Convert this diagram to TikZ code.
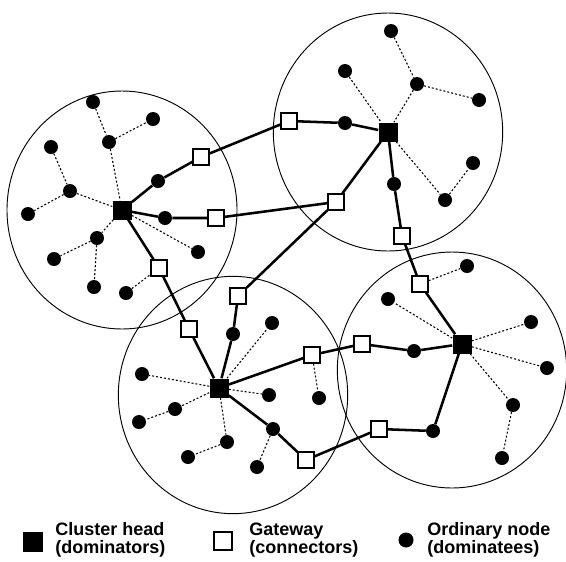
\documentclass[tikz,border=0pt]{standalone}
\usepackage{fontspec}
\setmainfont{Liberation Sans}

\tikzstyle{head} = [rectangle, fill=black, minimum size=14.25pt, inner sep=0pt]
\tikzstyle{gateway} = [rectangle, draw=black, fill=white, line width=1.5pt,
minimum size=11.5pt, inner sep=0pt]
\tikzstyle{ordinary} = [circle, fill=black, minimum size=10.5pt, inner sep=0pt]
\tikzstyle{link} = [line width=1.9pt]
\tikzstyle{dom} = [line width=0.8pt, dash pattern=on 1.5pt off 1.5pt]
\tikzstyle{cluster} = [line width=0.7pt]
\tikzstyle{legend} = [align=left, anchor=west, inner sep=0pt,
font=\fontsize{13.5}{13.8}\selectfont\bfseries]

\begin{document}
\begin{tikzpicture}[x=0.75pt, y=-0.75pt]

  \useasboundingbox (0,0) rectangle (566,561);

  % cluster ranges
  \draw [cluster] (122,210) ellipse [x radius=86.25pt, y radius=89.25pt];
  \draw [cluster] (388,132) ellipse [x radius=86pt, y radius=89.25pt];
  \draw [cluster] (233,395) ellipse [x radius=86pt, y radius=89pt];
  \draw [cluster] (452,370) ellipse [x radius=86pt, y radius=88.5pt];

  % left cluster
  \node (h1) [head] at (122,210) {};
  \node (g1) [gateway] at (201,157) {};
  \node (g2) [gateway] at (216,218) {};
  \node (g3) [gateway] at (159,268) {};
  \node (a) [ordinary] at (93,102) {};
  \node (b) [ordinary] at (153,119) {};
  \node (c) [ordinary] at (109,142) {};
  \node (d) [ordinary] at (51,147) {};
  \node (e) [ordinary] at (70,191) {};
  \node (f) [ordinary] at (28,214) {};
  \node (g) [ordinary] at (158,181) {};
  \node (h) [ordinary] at (165,218) {};
  \node (i) [ordinary] at (97,238) {};
  \node (j) [ordinary] at (54,259) {};
  \node (k) [ordinary] at (94,287) {};
  \node (l) [ordinary] at (126,293) {};
  \node (m) [ordinary] at (198,252) {};

  % top right cluster
  \node (h2) [head] at (388,132) {};
  \node (g5) [gateway] at (336,202) {};
  \node (g6) [gateway] at (289,121) {};
  \node (g7) [gateway] at (402,236) {};
  \node (n) [ordinary] at (391,31) {};
  \node (o) [ordinary] at (345,71) {};
  \node (p) [ordinary] at (417,84) {};
  \node (q) [ordinary] at (479,100) {};
  \node (r) [ordinary] at (345,123) {};
  \node (s) [ordinary] at (394,184) {};
  \node (t) [ordinary] at (445,200) {};
  \node (u) [ordinary] at (473,163) {};

  % bottom left cluster
  \node (h3) [head] at (219,388) {};
  \node (g4) [gateway] at (189,329) {};
  \node (g8) [gateway] at (238,296) {};
  \node (g9) [gateway] at (312,355) {};
  \node (g10) [gateway] at (306,460) {};
  \node (v) [ordinary] at (233,334) {};
  \node (w) [ordinary] at (272,323) {};
  \node (x) [ordinary] at (142,374) {};
  \node (y) [ordinary] at (175,409) {};
  \node (z) [ordinary] at (139,422) {};
  \node (aa) [ordinary] at (269,395) {};
  \node (bb) [ordinary] at (227,442) {};
  \node (cc) [ordinary] at (188,457) {};
  \node (dd) [ordinary] at (273,429) {};
  \node (ee) [ordinary] at (257,467) {};
  \node (ff) [ordinary] at (319,398) {};

  % bottom right cluster
  \node (h4) [head] at (462,344) {};
  \node (g11) [gateway] at (362,344) {};
  \node (g12) [gateway] at (379,429) {};
  \node (g13) [gateway] at (420,284) {};
  \node (gg) [ordinary] at (467,266) {};
  \node (hh) [ordinary] at (388,299) {};
  \node (ii) [ordinary] at (414,351) {};
  \node (jj) [ordinary] at (531,322) {};
  \node (kk) [ordinary] at (547,368) {};
  \node (ll) [ordinary] at (513,405) {};
  \node (mm) [ordinary] at (502,458) {};
  \node (nn) [ordinary] at (433,431) {};

  % dominator links
  \draw [dom] (a) -- (c);
  \draw [dom] (c) -- (b);
  \draw [dom] (c) -- (h1);
  \draw [dom] (d) -- (e);
  \draw [dom] (e) -- (f);
  \draw [dom] (e) -- (h1);
  \draw [dom] (h1) -- (i);
  \draw [dom] (i) -- (j);
  \draw [dom] (i) -- (k);
  \draw [dom] (h1) -- (m);
  \draw [dom] (l) -- (g3);

  \draw [dom] (n) -- (p);
  \draw [dom] (p) -- (q);
  \draw [dom] (p) -- (h2);
  \draw [dom] (o) -- (h2);
  \draw [dom] (h2) -- (t);
  \draw [dom] (t) -- (u);

  \draw [dom] (h3) -- (w);
  \draw [dom] (h3) -- (x);
  \draw [dom] (h3) -- (y);
  \draw [dom] (y) -- (z);
  \draw [dom] (h3) -- (aa);
  \draw [dom] (h3) -- (bb);
  \draw [dom] (bb) -- (cc);
  \draw [dom] (dd) -- (ee);
  \draw [dom] (g9) -- (ff);

  \draw [dom] (g13) -- (gg);
  \draw [dom] (h4) -- (hh);
  \draw [dom] (h4) -- (jj);
  \draw [dom] (h4) -- (kk);
  \draw [dom] (h4) -- (ll);
  \draw [dom] (ll) -- (mm);

  % backbone
  \draw [link] (h1) -- (g) -- (g1) -- (g6) -- (r) -- (h2);
  \draw [link] (h1) -- (h) -- (g2) -- (g5) -- (h2);
  \draw [link] (g5) -- (g8);
  \draw [link] (h2) -- (s) -- (g7) -- (g13) -- (h4);
  \draw [link] (h1) -- (g3) -- (g4) -- (h3);
  \draw [link] (h3) -- (v) -- (g8);
  \draw [link] (h3) -- (g9) -- (g11) -- (ii) -- (h4);
  \draw [link] (h3) -- (dd) -- (g10) -- (g12) -- (nn) -- (h4);

  % legend
  \node (lhead) [head, minimum size=15pt] at (33,542) {};
  \node (lheadtext) [legend] at (55,540) {Cluster head\\(dominators)};
  \node (lgate) [gateway, minimum size=13pt] at (223,541) {};
  \node (lgatetext) [legend] at (249,540) {Gateway\\(connectors)};
  \node (lord) [ordinary, minimum size=11.25pt] at (406,540) {};
  \node (lordtext) [legend] at (427,540) {Ordinary node\\(dominatees)};

\end{tikzpicture}
\end{document}
